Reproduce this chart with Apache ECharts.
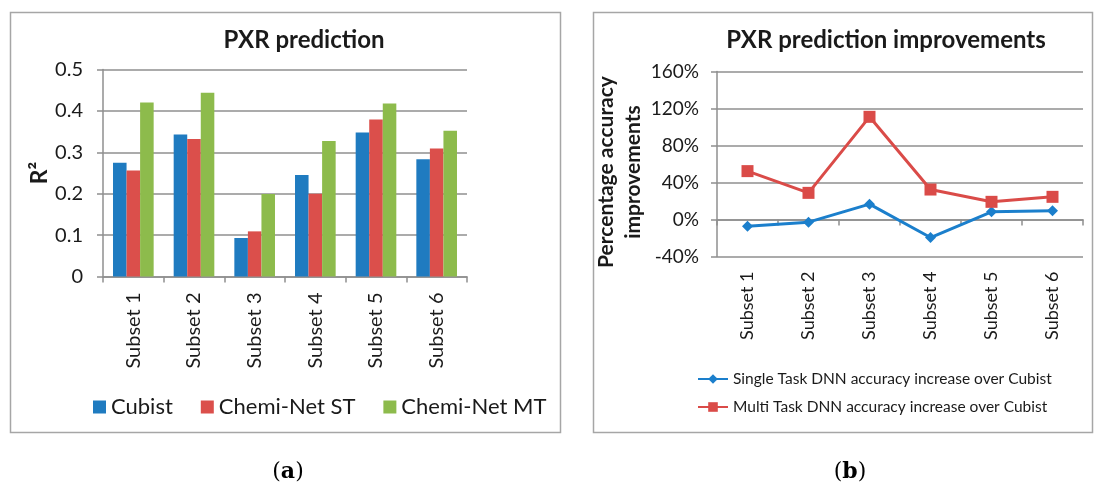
<!DOCTYPE html>
<html><head><meta charset="utf-8">
<script src="https://cdn.jsdelivr.net/npm/echarts@6/dist/echarts.min.js"></script>
<style>html,body{margin:0;padding:0;background:#fff}#c{width:1099px;height:486px}</style>
</head><body><div id="c"></div>
<script>
const categories = ['Subset 1','Subset 2','Subset 3','Subset 4','Subset 5','Subset 6'];
const cubist     = [0.275, 0.343, 0.093, 0.245, 0.348, 0.283];
const chemiST    = [0.256, 0.332, 0.109, 0.200, 0.379, 0.309];
const chemiMT    = [0.420, 0.444, 0.199, 0.327, 0.418, 0.352];
const singleTask = [-7.2, -2.9, 16.6, -19.5, 8.3, 9.4];
const multiTask  = [52.3, 28.8, 111, 32.4, 19.1, 24.5];
const r2Ticks = {min: 0, max: 0.5, interval: 0.1};
const pctTicks = {min: -40, max: 160, interval: 40};

const FONT = 'Lato, "Open Sans", sans-serif';
const GRID = '#8f8f8f';
const TXT = '#1a1a1a';

const chart = echarts.init(document.getElementById('c'), null, {renderer:'canvas'});
chart.setOption({
  animation:false,
  textStyle:{fontFamily:FONT},
  graphic:[
    {type:'rect', shape:{x:10.5,y:12.5,width:550,height:420}, style:{fill:'none',stroke:'#a6a6a6',lineWidth:1.5}},
    {type:'rect', shape:{x:593.5,y:12.5,width:499,height:420}, style:{fill:'none',stroke:'#a6a6a6',lineWidth:1.5}},
    {type:'text', x:304, y:40, style:{text:'PXR prediction', font:'bold 24px '+FONT, fill:TXT, textAlign:'center', textVerticalAlign:'middle'}},
    {type:'text', x:886, y:40, style:{text:'PXR prediction improvements', font:'bold 24px '+FONT, fill:TXT, textAlign:'center', textVerticalAlign:'middle'}},
    {type:'text', x:288, y:472, style:{text:'{p|(}{b|a}{p|)}', textAlign:'center', textVerticalAlign:'middle',
      rich:{p:{fontFamily:'"DejaVu Serif", serif', fontSize:22, fill:'#000'}, b:{fontFamily:'"DejaVu Serif", serif', fontSize:22, fontWeight:'bold', fill:'#000'}}}},
    {type:'text', x:850, y:472, style:{text:'{p|(}{b|b}{p|)}', textAlign:'center', textVerticalAlign:'middle',
      rich:{p:{fontFamily:'"DejaVu Serif", serif', fontSize:22, fill:'#000'}, b:{fontFamily:'"DejaVu Serif", serif', fontSize:22, fontWeight:'bold', fill:'#000'}}}}
  ],
  legend:[
    {data:['Cubist','Chemi-Net ST','Chemi-Net MT'], left:88, top:391, icon:'rect', itemWidth:13, itemHeight:13, itemGap:28,
     textStyle:{fontSize:22, color:TXT, fontFamily:FONT}},
    {data:['Single Task DNN accuracy increase over Cubist','Multi Task DNN accuracy increase over Cubist'], orient:'vertical',
     left:692, top:366, itemWidth:30, itemHeight:12, itemGap:12, textStyle:{fontSize:15.5, color:TXT, fontFamily:FONT}}
  ],
  grid:[
    {left:103, top:69.5, width:364, height:207},
    {left:717, top:71.5, width:366, height:185}
  ],
  xAxis:[
    {type:'category', gridIndex:0, data:categories, boundaryGap:true,
     axisLine:{lineStyle:{color:GRID, width:1.5}}, axisTick:{show:true, length:6, lineStyle:{color:GRID, width:1.5}},
     axisLabel:{rotate:90, margin:16, fontSize:20, color:TXT}},
    {type:'category', gridIndex:1, data:categories, boundaryGap:true,
     axisLine:{onZero:true, lineStyle:{color:GRID, width:1.5}}, axisTick:{show:true, length:6, lineStyle:{color:GRID, width:1.5}},
     axisLabel:{show:false}},
    {type:'category', gridIndex:1, data:categories, boundaryGap:true, position:'bottom',
     axisLine:{show:false, onZero:false}, axisTick:{show:false},
     axisLabel:{rotate:90, margin:15, fontSize:18, color:TXT}}
  ],
  yAxis:[
    {type:'value', gridIndex:0, min:r2Ticks.min, max:r2Ticks.max, interval:r2Ticks.interval,
     name:'R²', nameLocation:'middle', nameGap:52, nameRotate:90,
     nameTextStyle:{fontSize:23, fontWeight:'bold', color:TXT},
     axisLine:{show:true, lineStyle:{color:GRID, width:1.5}}, axisTick:{show:true, length:6, lineStyle:{color:GRID, width:1.5}},
     splitLine:{lineStyle:{color:GRID, width:1.5}},
     axisLabel:{fontSize:20, color:TXT, margin:20}},
    {type:'value', gridIndex:1, min:pctTicks.min, max:pctTicks.max, interval:pctTicks.interval,
     name:'Percentage accuracy\nimprovements', nameLocation:'middle', nameGap:61, nameRotate:90,
     nameTextStyle:{fontSize:21, fontWeight:'bold', color:TXT, lineHeight:27, padding:[0,16,0,0]},
     axisLine:{show:true, lineStyle:{color:GRID, width:1.5}}, axisTick:{show:true, length:6, lineStyle:{color:GRID, width:1.5}},
     splitLine:{lineStyle:{color:GRID, width:1.5}},
     axisLabel:{fontSize:19, color:TXT, margin:18, formatter:'{value}%'}}
  ],
  series:[
    {name:'Cubist', type:'bar', xAxisIndex:0, yAxisIndex:0, data:cubist, barGap:'0%', barCategoryGap:'33%', itemStyle:{color:'#1f7bc0'}},
    {name:'Chemi-Net ST', type:'bar', xAxisIndex:0, yAxisIndex:0, data:chemiST, barGap:'0%', barCategoryGap:'33%', itemStyle:{color:'#db4f4b'}},
    {name:'Chemi-Net MT', type:'bar', xAxisIndex:0, yAxisIndex:0, data:chemiMT, barGap:'0%', barCategoryGap:'33%', itemStyle:{color:'#8dbb4c'}},
    {name:'Single Task DNN accuracy increase over Cubist', type:'line', xAxisIndex:1, yAxisIndex:1, data:singleTask,
     symbol:'diamond', symbolSize:11, lineStyle:{width:3, color:'#1b7fcc'}, itemStyle:{color:'#1b7fcc'}},
    {name:'Multi Task DNN accuracy increase over Cubist', type:'line', xAxisIndex:1, yAxisIndex:1, data:multiTask,
     symbol:'rect', symbolSize:12, lineStyle:{width:3, color:'#da4b48'}, itemStyle:{color:'#da4b48'}}
  ]
});
</script></body></html>
